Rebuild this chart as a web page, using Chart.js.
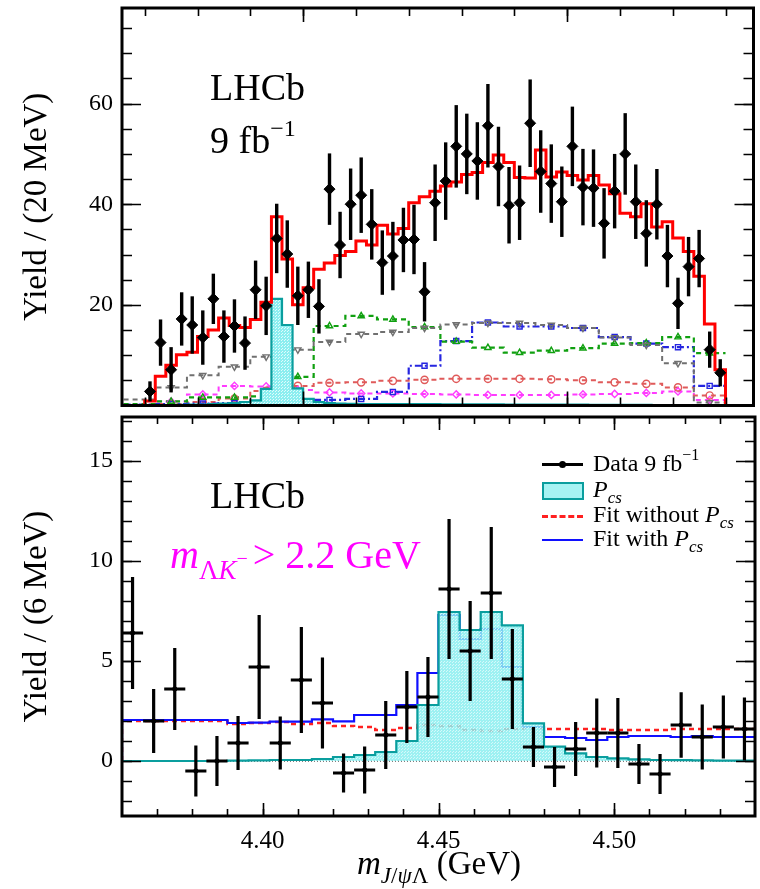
<!DOCTYPE html>
<html>
<head>
<meta charset="utf-8">
<title>m(J/psi Lambda)</title>
<script src="https://cdn.jsdelivr.net/npm/chart.js@4.4.1/dist/chart.umd.min.js"></script>
<style>
  body { margin: 0; background: #fff; }
  #page { position: relative; width: 760px; height: 889px; overflow: hidden;
          font-family: "Liberation Serif", "Times New Roman", serif; color: #000; }
  canvas { position: absolute; left: 0; }
  .txt { position: absolute; white-space: nowrap; line-height: 1; }
  .up { position: relative; }
  .key { position: absolute; }
</style>
</head>
<body>
<div id="page">
  <canvas id="full" width="760" height="412" style="top:0"></canvas>
  <canvas id="zoom" width="760" height="477" style="top:412px"></canvas>

  <div class="txt" style="left:210px; top:68px; font-size:38px">LHCb</div>
  <div class="txt" style="left:210px; top:121px; font-size:38px">9 fb<span class="up" style="font-size:24px; top:-17px">−1</span></div>

  <div class="txt" style="left:210px; top:476px; font-size:38px">LHCb</div>
  <div class="txt" style="left:170px; top:535px; font-size:40px; color:#ff00ff"><i>m</i><span class="up" style="font-size:27px; top:11px">Λ<i>K</i><span class="up" style="font-size:20px; top:-14px">−</span></span><span style="margin-left:5px">&gt; 2.2 GeV</span></div>

  <!-- legend -->
  <div class="key" style="left:542px; top:463px; width:41px; border-top:3px solid #000"></div>
  <div class="key" style="left:559px; top:461px; width:7px; height:7px; border-radius:50%; background:#000"></div>
  <div class="key" style="left:542px; top:482px; width:38px; height:14px; border:2px solid #0a9e9e; background:#a6f3f3"></div>
  <div class="key" style="left:542px; top:515px; width:41px; border-top:3px dashed #ff2020"></div>
  <div class="key" style="left:542px; top:539px; width:41px; border-top:2.5px solid #1010ff"></div>
  <div class="txt" style="left:593px; top:451px; font-size:24px">Data 9 fb<span class="up" style="font-size:16px; top:-11px">−1</span></div>
  <div class="txt" style="left:593px; top:477px; font-size:24px"><i>P</i><span class="up" style="font-size:17px; top:6px"><i>cs</i></span></div>
  <div class="txt" style="left:593px; top:502px; font-size:24px">Fit without <i>P</i><span class="up" style="font-size:17px; top:6px"><i>cs</i></span></div>
  <div class="txt" style="left:593px; top:526px; font-size:24px">Fit with <i>P</i><span class="up" style="font-size:17px; top:6px"><i>cs</i></span></div>

  <div class="txt" style="left:357px; top:847px; font-size:33px"><i>m</i><span class="up" style="font-size:23px; top:9px"><i>J</i>/<i>ψ</i>Λ</span> (GeV)</div>
</div>

<script>
// ---- upper panel: full m(J/psi Lambda) range, 20 MeV bins from 4.20 GeV ----
const fullStart = 4.20;
const fullWidth = 0.02;
const fullYield = [2.8, 12.5, 7.1, 17.2, 16.0, 13.5, 21.2, 13.7, 15.8, 12.4,
                   23.0, 19.8, 33.2, 30.1, 21.8, 23.0, 19.7, 43.0, 31.9, 40.0,
                   41.8, 36.0, 28.4, 29.7, 32.9, 33.0, 22.6, 40.3, 44.6, 51.5,
                   50.0, 48.6, 55.6, 47.5, 39.8, 40.3, 56.1, 46.5, 44.1, 40.5,
                   51.5, 43.4, 43.2, 36.2, 42.6, 50.0, 40.5, 34.2, 40.0, 29.7,
                   20.3, 27.6, 29.2, 11.1, 6.5];
const fullYieldErr = [2.0, 4.6, 4.5, 5.3, 5.7, 5.4, 5.0, 5.2, 5.3, 5.3,
                      5.8, 5.8, 6.9, 6.7, 5.8, 5.6, 5.4, 7.1, 6.6, 7.1,
                      7.5, 7.0, 6.4, 6.8, 6.4, 6.9, 5.9, 7.6, 7.7, 8.2,
                      8.0, 7.7, 8.3, 7.9, 7.6, 7.4, 8.7, 8.2, 7.8, 7.0,
                      7.9, 7.6, 7.7, 7.0, 7.4, 8.1, 7.4, 6.6, 7.0, 6.2,
                      5.1, 5.9, 5.7, 3.6, 2.7];
const fullFit = [0.9, 5.8, 8.0, 10.1, 10.6, 13.7, 15.0, 17.4, 15.9, 15.5,
                 17.1, 20.5, 37.5, 29.1, 20.0, 23.4, 27.1, 28.3, 29.8, 30.6,
                 32.7, 31.9, 35.8, 34.1, 35.2, 40.3, 41.5, 42.6, 43.6, 44.4,
                 45.9, 46.3, 48.3, 49.8, 48.3, 45.3, 45.2, 50.8, 45.4, 46.4,
                 45.7, 44.8, 45.7, 43.8, 42.1, 38.2, 37.5, 40.1, 35.5, 36.5,
                 33.3, 30.6, 25.7, 16.2, 7.1];
const fullPcs = [0.05, 0.1, 0.1, 0.15, 0.2, 0.2, 0.3, 0.4, 0.5, 0.7,
                 1.0, 3.3, 21.2, 16.0, 3.4, 1.3, 0.7, 0.5, 0.4, 0.35,
                 0.3, 0.3, 0.3, 0.3, 0.3, 0.3, 0.3, 0.3, 0.25, 0.25,
                 0.25, 0.25, 0.25, 0.25, 0.2, 0.2, 0.2, 0.2, 0.2, 0.2,
                 0.2, 0.2, 0.15, 0.15, 0.15, 0.15, 0.15, 0.15, 0.1, 0.1,
                 0.1, 0.1, 0.1, 0.1, 0.1];

// other fit components, 60 MeV bins from 4.16 GeV
const compStart = 4.16;
const compWidth = 0.06;
const compGrey    = [1.2, 3.6, 6.0, 7.7, 9.7, 11.1, 12.6, 14.2, 14.6, 15.4, 16.1, 16.4, 16.4, 16.0, 15.4, 13.5, 12.0, 8.4, 0.6];
const compGreen   = [0.3, 0.8, 1.6, 1.6, 1.8, 5.7, 15.8, 17.8, 17.1, 15.6, 12.7, 11.5, 10.5, 10.9, 11.4, 12.3, 12.4, 13.6, 10.4];
const compBlue    = [0.2, 0.3, 0.4, 0.5, 0.6, 0.7, 1.1, 1.3, 2.7, 7.9, 12.8, 16.5, 15.7, 15.7, 15.4, 13.6, 12.3, 11.6, 3.9];
const compSalmon  = [0.1, 0.3, 0.7, 1.4, 2.9, 3.9, 4.5, 4.6, 4.9, 5.1, 5.3, 5.3, 5.3, 5.2, 5.0, 4.6, 4.3, 3.6, 2.0];
const compMagenta = [0.2, 0.8, 2.2, 3.9, 3.8, 3.1, 2.6, 2.4, 2.4, 2.3, 2.2, 2.1, 2.1, 2.1, 2.2, 2.3, 2.5, 2.8, 1.1];

// ---- lower panel: m(Lambda K-) > 2.2 GeV, 6 MeV bins from 4.36 GeV ----
const zoomStart = 4.36;
const zoomWidth = 0.006;
const zoomYield = [6.4, 2.0, 3.6, -0.5, 0.0, 0.9, 4.7, 0.9, 4.05, 2.9,
                   -0.6, -0.45, 1.3, 2.7, 3.2, 8.6, 5.5, 8.4, 4.1, 0.7,
                   -0.3, 0.6, 1.4, 1.4, -0.15, -0.65, 1.8, 1.2, 1.7, 1.6];
const zoomYieldErr = [2.8, 1.6, 2.05, 1.27, 1.25, 1.35, 2.6, 1.33, 2.65, 2.27,
                      0.97, 1.18, 1.7, 1.8, 2.0, 3.5, 2.5, 3.3, 2.5, 1.0,
                      1.0, 1.35, 1.72, 1.75, 1.0, 1.0, 1.64, 1.63, 1.58, 1.58];
const zoomFitWith = [2.05, 2.05, 2.05, 2.05, 2.05, 1.9, 1.92, 1.97, 1.97, 2.08,
                     1.98, 2.3, 2.3, 2.8, 4.4, 7.3, 6.1, 6.6, 4.7, 1.7,
                     1.2, 1.15, 1.05, 1.2, 1.25, 1.25, 1.2, 1.25, 1.2, 1.2];
const zoomFitWithout = [2.0, 2.0, 2.0, 2.0, 2.0, 1.85, 1.9, 1.95, 1.85, 1.9,
                        1.75, 1.7, 1.55, 1.65, 1.8, 1.75, 1.55, 1.5, 1.6, 1.65,
                        1.6, 1.6, 1.6, 1.55, 1.55, 1.55, 1.6, 1.6, 1.6, 1.6];
const zoomPcs = [0, 0, 0, 0, 0, 0.02, 0.03, 0.05, 0.05, 0.1,
                 0.2, 0.3, 0.45, 1.0, 2.8, 7.45, 6.55, 7.45, 6.78, 1.88,
                 0.72, 0.38, 0.2, 0.13, 0.08, 0.05, 0.04, 0.03, 0.02, 0.02];

// axis ticks
const fullYTicks = [20, 40, 60];
const fullXMajor = [4.5, 5.0];
const zoomYTicks = [0, 5, 10, 15];
const zoomXTicks = [4.40, 4.45, 4.50];

Chart.defaults.font.family = "'Liberation Serif', 'Times New Roman', serif";
Chart.defaults.color = '#000';

function range(lo, hi) {
  const out = [];
  for (let i = lo; i <= hi; i++) out.push(i);
  return out;
}
const fullXMinor = range(42, 53).map(i => i / 10);
const fullYMinor = range(1, 15).map(i => i * 5);
const zoomXMinor = range(437, 453).map(i => i / 100);
const zoomYMinor = range(-2, 17);

// histogram outline: one point per low bin edge, drawn with stepped:'before'
function histo(start, width, vals, lead, tail) {
  const pts = [];
  if (lead != null) pts.push({x: lead, y: 0});
  vals.forEach((v, i) => pts.push({x: start + i * width, y: v}));
  const end = start + vals.length * width;
  pts.push({x: end, y: vals[vals.length - 1]});
  if (tail != null) pts.push({x: end, y: 0}, {x: tail, y: 0});
  return pts;
}
function centres(start, width, vals, from) {
  return vals.map((v, i) => ({x: start + (i + 0.5) * width, y: v})).slice(from || 0);
}

function line(pts, color, width, dash, extra) {
  return Object.assign({data: pts, borderColor: color, borderWidth: width, borderDash: dash || [],
    stepped: 'before', pointRadius: 0, fill: false, tension: 0}, extra || {});
}
function marks(pts, color, style, rot) {
  return {data: pts, showLine: false, pointStyle: style, rotation: rot || 0, pointRadius: 3.6,
    pointBorderWidth: 1.4, pointBorderColor: color, pointBackgroundColor: 'rgba(255,255,255,0)'};
}

function cyanPattern(alpha) {
  const c = document.createElement('canvas');
  c.width = 3; c.height = 3;
  const g = c.getContext('2d');
  g.fillStyle = 'rgba(140,238,240,' + alpha + ')';
  g.fillRect(0, 0, 3, 3);
  g.fillStyle = 'rgba(225,252,252,' + alpha + ')';
  g.fillRect(0, 0, 1, 1);
  g.fillRect(2, 1, 1, 1);
  return g.createPattern(c, 'repeat');
}

// vertical (and optional horizontal) error bars for the data sets
const errorBars = {
  id: 'errorBars',
  afterDatasetsDraw(chart) {
    const {ctx, scales: {x, y}} = chart;
    chart.data.datasets.forEach(ds => {
      if (!ds.yErr) return;
      ctx.save();
      ctx.strokeStyle = '#000';
      ctx.lineWidth = ds.barWidth;
      ds.data.forEach((p, j) => {
        const px = x.getPixelForValue(p.x);
        ctx.beginPath();
        ctx.moveTo(px, y.getPixelForValue(p.y - ds.yErr[j]));
        ctx.lineTo(px, y.getPixelForValue(p.y + ds.yErr[j]));
        if (ds.xHalf) {
          const py = y.getPixelForValue(p.y);
          ctx.moveTo(x.getPixelForValue(p.x - ds.xHalf), py);
          ctx.lineTo(x.getPixelForValue(p.x + ds.xHalf), py);
        }
        ctx.stroke();
      });
      ctx.restore();
    });
  }
};

// ROOT style frame with ticks on the inside of all four sides
const insideTicks = {
  id: 'insideTicks',
  afterDraw(chart, args, opts) {
    const {ctx, chartArea: a, scales: {x, y}} = chart;
    ctx.save();
    ctx.strokeStyle = '#000';
    ctx.lineWidth = 1.6;
    const xs = (vals, len) => vals.forEach(v => {
      const p = Math.round(x.getPixelForValue(v)) + 0.5;
      ctx.beginPath();
      ctx.moveTo(p, a.bottom); ctx.lineTo(p, a.bottom - len);
      ctx.moveTo(p, a.top); ctx.lineTo(p, a.top + len);
      ctx.stroke();
    });
    const ys = (vals, len) => vals.forEach(v => {
      const p = Math.round(y.getPixelForValue(v)) + 0.5;
      ctx.beginPath();
      ctx.moveTo(a.left, p); ctx.lineTo(a.left + len, p);
      ctx.moveTo(a.right, p); ctx.lineTo(a.right - len, p);
      ctx.stroke();
    });
    xs(opts.x.minor, opts.x.len[1]);
    xs(opts.x.major, opts.x.len[0]);
    ys(opts.y.minor, opts.y.len[1]);
    ys(opts.y.major, opts.y.len[0]);
    ctx.lineWidth = 3;
    ctx.strokeRect(a.left, a.top, a.right - a.left, a.bottom - a.top);
    ctx.restore();
  }
};

function yAxis(min, max, ticks, title) {
  return {
    min, max,
    afterBuildTicks: s => { s.ticks = ticks.map(v => ({value: v})); },
    afterFit: s => { s.width = 122; s.paddingTop = 0; s.paddingBottom = 0; },
    grid: {display: false, drawTicks: false},
    border: {display: false},
    ticks: {font: {size: 24}, padding: 9, color: '#000'},
    title: {display: true, text: title, font: {size: 33}, color: '#000', padding: {top: 18, bottom: 0}}
  };
}

const fullXMin = 4.157, fullXMax = 5.353;

new Chart(document.getElementById('full'), {
  type: 'line',
  data: {
    datasets: [
      {data: centres(fullStart, fullWidth, fullYield), yErr: fullYieldErr, barWidth: 3.4,
       showLine: false, pointStyle: 'rectRot', pointRadius: 5.5, pointBackgroundColor: '#000', pointBorderColor: '#000'},
      line(histo(fullStart, fullWidth, fullFit, fullXMin, fullXMax), '#ff0000', 3),
      line(histo(fullStart, fullWidth, fullPcs, fullStart, fullXMax), '#0a9e9e', 2.2,
           [], {fill: 'origin', backgroundColor: cyanPattern(1)}),
      marks(centres(compStart, compWidth, compGrey, 1), '#707070', 'triangle', 180),
      marks(centres(compStart, compWidth, compGreen, 1), '#10a010', 'triangle'),
      marks(centres(compStart, compWidth, compBlue, 1), '#2525e0', 'rect'),
      marks(centres(compStart, compWidth, compSalmon, 1), '#e05a5a', 'circle'),
      marks(centres(compStart, compWidth, compMagenta, 1), '#ff3cff', 'rectRot'),
      line(histo(compStart, compWidth, compGrey), '#707070', 2, [5, 4]),
      line(histo(compStart, compWidth, compGreen), '#10a010', 2.2, [5, 4]),
      line(histo(compStart, compWidth, compBlue), '#2525e0', 2.2, [7, 3, 2, 3]),
      line(histo(compStart, compWidth, compSalmon), '#e05a5a', 2, [5, 4]),
      line(histo(compStart, compWidth, compMagenta), '#ff3cff', 2, [5, 4])
    ]
  },
  options: {
    responsive: false, animation: false, events: [],
    layout: {padding: {top: 8, right: 1, bottom: 6, left: 0}},
    plugins: {
      legend: {display: false}, tooltip: {enabled: false},
      insideTicks: {x: {major: fullXMajor, minor: fullXMinor, len: [14, 8]},
                    y: {major: fullYTicks, minor: fullYMinor, len: [19, 10]}}
    },
    scales: {
      x: {type: 'linear', min: fullXMin, max: fullXMax, display: false},
      y: yAxis(0, 79, fullYTicks, 'Yield / (20 MeV)')
    }
  },
  plugins: [errorBars, insideTicks]
});

new Chart(document.getElementById('zoom'), {
  type: 'line',
  data: {
    datasets: [
      {data: centres(zoomStart, zoomWidth, zoomYield), yErr: zoomYieldErr, xHalf: zoomWidth / 2, barWidth: 3.2,
       showLine: false, pointStyle: 'circle', pointRadius: 2.2, pointBackgroundColor: '#000', pointBorderColor: '#000'},
      line(histo(zoomStart, zoomWidth, zoomPcs, zoomStart), '#0a9e9e', 2.2,
           [], {fill: 'origin', backgroundColor: cyanPattern(0.85)}),
      line(histo(zoomStart, zoomWidth, zoomFitWith, zoomStart), '#1010ff', 2.2),
      line(histo(zoomStart, zoomWidth, zoomFitWithout, zoomStart), '#ff2020', 2.4, [5, 4]),
      line(histo(zoomStart, zoomWidth, zoomPcs.map(() => 0)), '#000', 1.2, [1, 2])
    ]
  },
  options: {
    responsive: false, animation: false, events: [],
    layout: {padding: {top: 5, right: 1, bottom: 0, left: 0}},
    plugins: {
      legend: {display: false}, tooltip: {enabled: false},
      insideTicks: {x: {major: zoomXTicks, minor: zoomXMinor, len: [13, 7]},
                    y: {major: zoomYTicks, minor: zoomYMinor, len: [19, 10]}}
    },
    scales: {
      x: {
        type: 'linear', min: 4.36, max: 4.54,
        afterBuildTicks: s => { s.ticks = zoomXTicks.map(v => ({value: v})); },
        afterFit: s => { s.height = 73; s.paddingLeft = 0; s.paddingRight = 0; },
        grid: {display: false, drawTicks: false},
        border: {display: false},
        ticks: {font: {size: 25}, padding: 10, maxRotation: 0, color: '#000', callback: v => v.toFixed(2)}
      },
      y: yAxis(-2.75, 17.2, zoomYTicks, 'Yield / (6 MeV)')
    }
  },
  plugins: [errorBars, insideTicks]
});
</script>
</body>
</html>
